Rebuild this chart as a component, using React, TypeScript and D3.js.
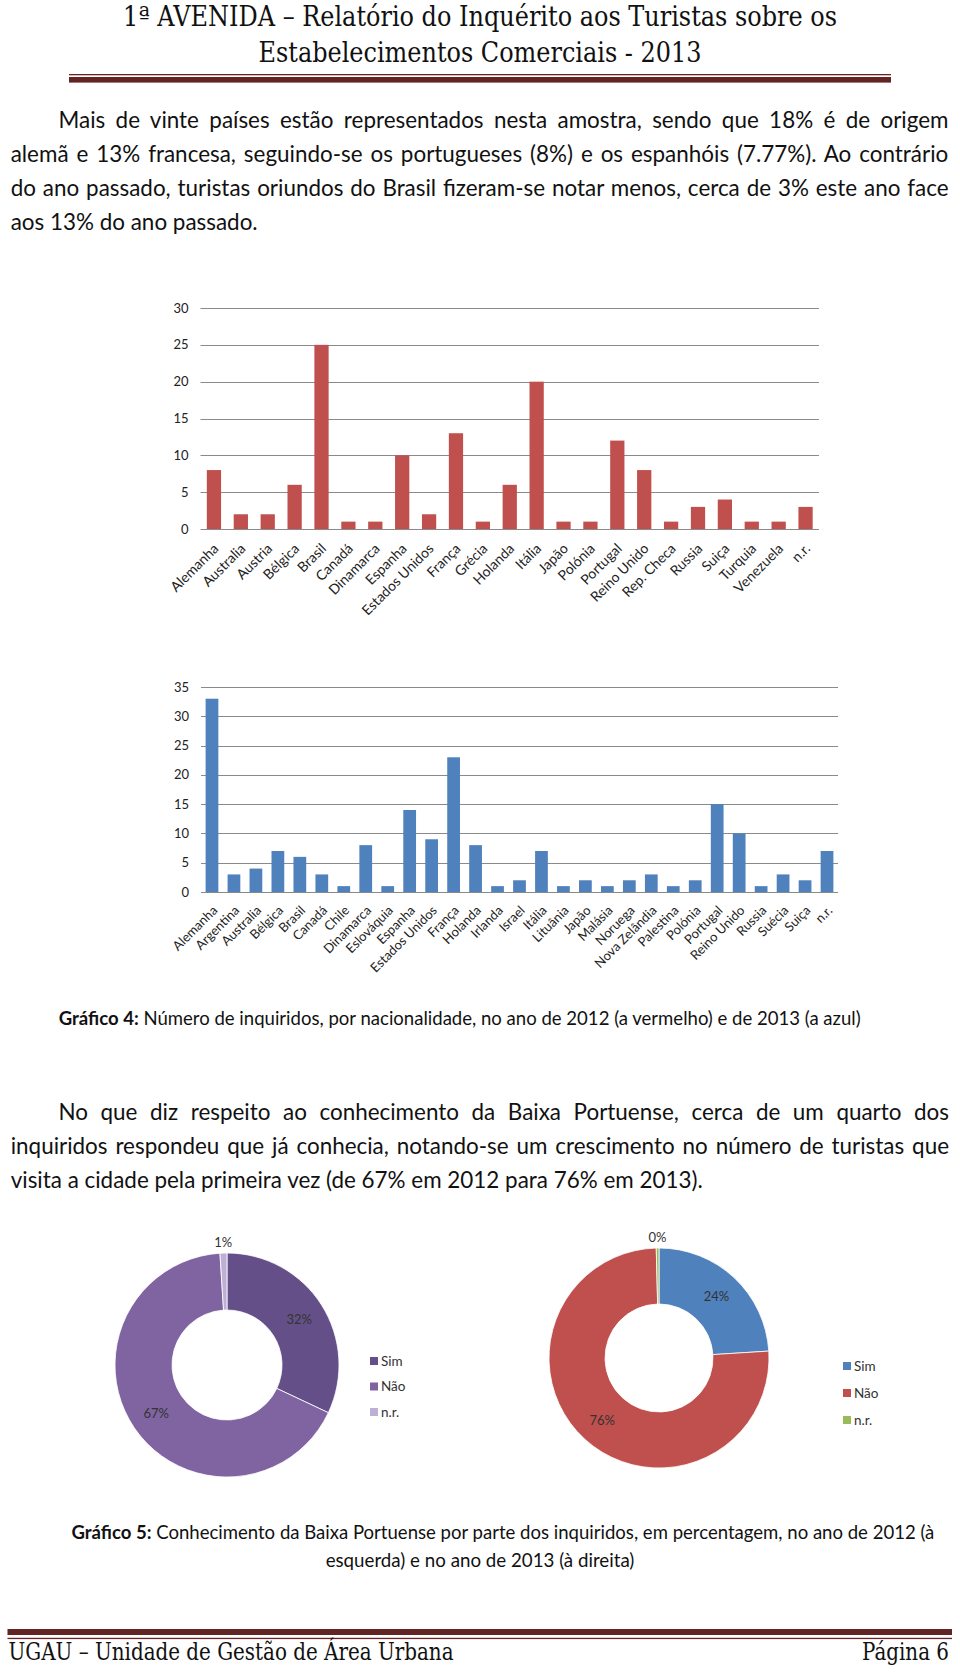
import React from 'react';
import * as d3 from 'd3';

const W = 960;
const H = 1672;

// page text
const headerLines = ['1ª AVENIDA – Relatório do Inquérito aos Turistas sobre os', 'Estabelecimentos Comerciais - 2013'];
const footerLeft = 'UGAU – Unidade de Gestão de Área Urbana';
const footerRight = 'Página 6';

const para1 = [
  'Mais de vinte países estão representados nesta amostra, sendo que 18% é de origem',
  'alemã e 13% francesa, seguindo-se os portugueses (8%) e os espanhóis (7.77%). Ao contrário',
  'do ano passado, turistas oriundos do Brasil fizeram-se notar menos, cerca de 3% este ano face',
  'aos 13% do ano passado.',
];
const para2 = [
  'No que diz respeito ao conhecimento da Baixa Portuense, cerca de um quarto dos',
  'inquiridos respondeu que já conhecia, notando-se um crescimento no número de turistas que',
  'visita a cidade pela primeira vez (de 67% em 2012 para 76% em 2013).',
];

const caption4Bold = 'Gráfico 4:';
const caption4Rest = ' Número de inquiridos, por nacionalidade, no ano de 2012 (a vermelho) e de 2013 (a azul)';
const caption5Bold = 'Gráfico 5:';
const caption5Rest = ' Conhecimento da Baixa Portuense por parte dos inquiridos, em percentagem, no ano de 2012 (à';
const caption5Line2 = 'esquerda) e no ano de 2013 (à direita)';

// chart 1 (2012)
const countries2012 = [
  'Alemanha', 'Australia', 'Austria', 'Bélgica', 'Brasil', 'Canadá', 'Dinamarca', 'Espanha',
  'Estados Unidos', 'França', 'Grécia', 'Holanda', 'Itália', 'Japão', 'Polónia', 'Portugal',
  'Reino Unido', 'Rep. Checa', 'Russia', 'Suiça', 'Turquia', 'Venezuela', 'n.r.',
];
const values2012 = [8, 2, 2, 6, 25, 1, 1, 10, 2, 13, 1, 6, 20, 1, 1, 12, 8, 1, 3, 4, 1, 1, 3];
const ticks2012 = [0, 5, 10, 15, 20, 25, 30];

// chart 2 (2013)
const countries2013 = [
  'Alemanha', 'Argentina', 'Australia', 'Bélgica', 'Brasil', 'Canadá', 'Chile', 'Dinamarca',
  'Eslováquia', 'Espanha', 'Estados Unidos', 'França', 'Holanda', 'Irlanda', 'Israel', 'Itália',
  'Lituânia', 'Japão', 'Malásia', 'Noruega', 'Nova Zelândia', 'Palestina', 'Polónia', 'Portugal',
  'Reino Unido', 'Russia', 'Suécia', 'Suiça', 'n.r.',
];
const values2013 = [33, 3, 4, 7, 6, 3, 1, 8, 1, 14, 9, 23, 8, 1, 2, 7, 1, 2, 1, 2, 3, 1, 2, 15, 10, 1, 3, 2, 7];
const ticks2013 = [0, 5, 10, 15, 20, 25, 30, 35];

// donuts
const knowLabels = ['Sim', 'Não', 'n.r.'];
const know2012 = [32, 67, 1];
const know2012Text = ['32%', '67%', '1%'];
const know2013 = [24, 75.6, 0.4];
const know2013Text = ['24%', '76%', '0%'];
const colors2012 = ['#654F88', '#8064A2', '#BDB0D4'];
const colors2013 = ['#4F81BD', '#C0504D', '#9BBB59'];

const BODY_FONT = "Lato, 'Open Sans', sans-serif";
const HEAD_FONT = "'DejaVu Serif Condensed', 'DejaVu Serif', serif";
const BAND = '#632523';

let ctx: CanvasRenderingContext2D | null = null;
const measure = (text: string, font: string) => {
  if (!ctx) ctx = document.createElement('canvas').getContext('2d');
  ctx!.font = font;
  return ctx!.measureText(text).width;
};

// font size that makes a line come out at the width seen in the picture
const fitSize = (text: string, width: number) => (20 * width) / measure(text, `20px ${BODY_FONT}`);

// a paragraph line, stretched with word spacing when justified
const Line = ({ text, x, y, width, size, justify }: any) => {
  let ws = 0;
  if (justify) {
    const nat = measure(text, `${size}px ${BODY_FONT}`);
    const spaces = text.split(' ').length - 1;
    ws = (width - nat) / spaces;
  }
  return (
    <text x={x} y={y} fontSize={size} fontFamily={BODY_FONT} fill="#111"
      style={{ wordSpacing: `${ws}px` }}>{text}</text>
  );
};

const Caption = ({ bold, rest, x, y, width }: any) => {
  const base = 16;
  const nat = measure(bold, `bold ${base}px ${BODY_FONT}`) + measure(rest, `${base}px ${BODY_FONT}`);
  const size = (base * width) / nat;
  return (
    <text x={x} y={y} fontSize={size} fontFamily={BODY_FONT} fill="#111">
      <tspan fontWeight="bold">{bold}</tspan>
      <tspan>{rest}</tspan>
    </text>
  );
};

const BarChart = ({ cats, vals, ticks, color, x0, x1, yBase, yTop, pad, labelSize, ldx, ldy }: any) => {
  const x = d3.scaleBand<string>().domain(cats).range([x0, x1]).paddingInner(pad).paddingOuter(pad / 2);
  const y = d3.scaleLinear().domain([0, ticks[ticks.length - 1]]).range([yBase, yTop]);
  return (
    <g fontFamily={BODY_FONT}>
      {ticks.map((t: number) => (
        <g key={t}>
          <line x1={x0} x2={x1} y1={Math.round(y(t)) + 0.5} y2={Math.round(y(t)) + 0.5} stroke="#8A8A8A" strokeWidth={1} />
          <text x={x0 - 12} y={y(t)} dy="0.35em" textAnchor="end" fontSize={13} fill="#222">{t}</text>
        </g>
      ))}
      {cats.map((c: string, i: number) => (
        <rect key={c} x={x(c)} y={y(vals[i])} width={x.bandwidth()} height={yBase - y(vals[i])} fill={color} />
      ))}
      {cats.map((c: string) => {
        const cx = (x(c) as number) + x.bandwidth() / 2;
        return (
          <text key={c} transform={`translate(${cx + ldx},${yBase + ldy}) rotate(-45)`} textAnchor="end"
            dy="0.35em" fontSize={labelSize} fill="#222">{c}</text>
        );
      })}
    </g>
  );
};

const Donut = ({ vals, texts, colors, cx, cy, r0, r1, legendX, legendY, legendGap }: any) => {
  const pie = d3.pie<number>().sort(null).value((d) => d)(vals);
  const arc = d3.arc<d3.PieArcDatum<number>>().innerRadius(r0).outerRadius(r1);
  const mid = (r0 + r1) / 2;
  return (
    <g fontFamily={BODY_FONT}>
      {pie.map((p, i) => (
        <path key={i} d={arc(p) as string} transform={`translate(${cx},${cy})`} fill={colors[i]}
          stroke="#fff" strokeWidth={0.8} />
      ))}
      {pie.map((p, i) => {
        const a = (p.startAngle + p.endAngle) / 2;
        const small = p.endAngle - p.startAngle < 0.1;
        const rr = small ? r1 + 11 : mid + 2;
        return (
          <text key={i} x={cx + rr * Math.sin(a)} y={cy - rr * Math.cos(a)} dy="0.35em" textAnchor="middle"
            fontSize={13} fill="#333">{texts[i]}</text>
        );
      })}
      {knowLabels.map((l, i) => (
        <g key={l} transform={`translate(${legendX},${legendY + i * legendGap})`}>
          <rect x={0} y={-4} width={8} height={8} fill={colors[i]} />
          <text x={11} y={0} dy="0.35em" fontSize={13.5} fill="#333">{l}</text>
        </g>
      ))}
    </g>
  );
};

export default function App() {
  // body size taken from the two unjustified closing lines
  const size = (fitSize(para1[3], 247) + fitSize(para2[2], 693)) / 2;
  return (
    <svg width={W} height={H} style={{ position: 'absolute', left: 0, top: 0, background: '#fff' }}>
      <rect width={W} height={H} fill="#fff" />

      {/* header */}
      <text x={480} y={25.5} textAnchor="middle" fontSize={27.5} fontFamily={HEAD_FONT} fill="#111"
        textLength={714} lengthAdjust="spacingAndGlyphs">{headerLines[0]}</text>
      <text x={480} y={61.5} textAnchor="middle" fontSize={27.5} fontFamily={HEAD_FONT} fill="#111"
        textLength={443} lengthAdjust="spacingAndGlyphs">{headerLines[1]}</text>
      <rect x={69} y={74} width={822} height={1.3} fill={BAND} />
      <rect x={69} y={77} width={822} height={5.6} fill={BAND} />

      {/* paragraph 1 */}
      {para1.map((t, i) => (
        <Line key={i} text={t} x={i === 0 ? 58.5 : 10.7} y={128 + i * 34} size={size}
          width={i === 0 ? 890.5 : 938.3} justify={i < para1.length - 1} />
      ))}

      <BarChart cats={countries2012} vals={values2012} ticks={ticks2012} color="#C0504D"
        x0={200.5} x1={819} yBase={529} yTop={308} pad={0.47} labelSize={14} ldx={2} ldy={17} />

      <BarChart cats={countries2013} vals={values2013} ticks={ticks2013} color="#4F81BD"
        x0={201} x1={838} yBase={892} yTop={687} pad={0.42} labelSize={13} ldx={3} ldy={16} />

      <Caption bold={caption4Bold} rest={caption4Rest} x={58.7} y={1025} width={803} />

      {/* paragraph 2 */}
      {para2.map((t, i) => (
        <Line key={i} text={t} x={i === 0 ? 58.5 : 10.7} y={1120 + i * 34} size={size}
          width={i === 0 ? 890.5 : 938.3} justify={i < para2.length - 1} />
      ))}

      <Donut vals={know2012} texts={know2012Text} colors={colors2012} cx={227} cy={1365} r0={55} r1={112}
        legendX={370} legendY={1361} legendGap={25.5} />
      <Donut vals={know2013} texts={know2013Text} colors={colors2013} cx={659} cy={1358} r0={54} r1={110}
        legendX={843} legendY={1366} legendGap={27} />

      <Caption bold={caption5Bold} rest={caption5Rest} x={71.5} y={1539} width={864} />
      <text x={480} y={1567} textAnchor="middle" fontSize={fitSize(caption5Line2, 309)} fontFamily={BODY_FONT}
        fill="#111">{caption5Line2}</text>

      {/* footer */}
      <rect x={7.5} y={1629} width={944.5} height={6} fill={BAND} />
      <rect x={7.5} y={1637.8} width={944.5} height={1.3} fill={BAND} />
      <text x={8.5} y={1660} fontSize={24.5} fontFamily={HEAD_FONT} fill="#111"
        textLength={445} lengthAdjust="spacingAndGlyphs">{footerLeft}</text>
      <text x={862} y={1660} fontSize={24.5} fontFamily={HEAD_FONT} fill="#111"
        textLength={87} lengthAdjust="spacingAndGlyphs">{footerRight}</text>
    </svg>
  );
}
